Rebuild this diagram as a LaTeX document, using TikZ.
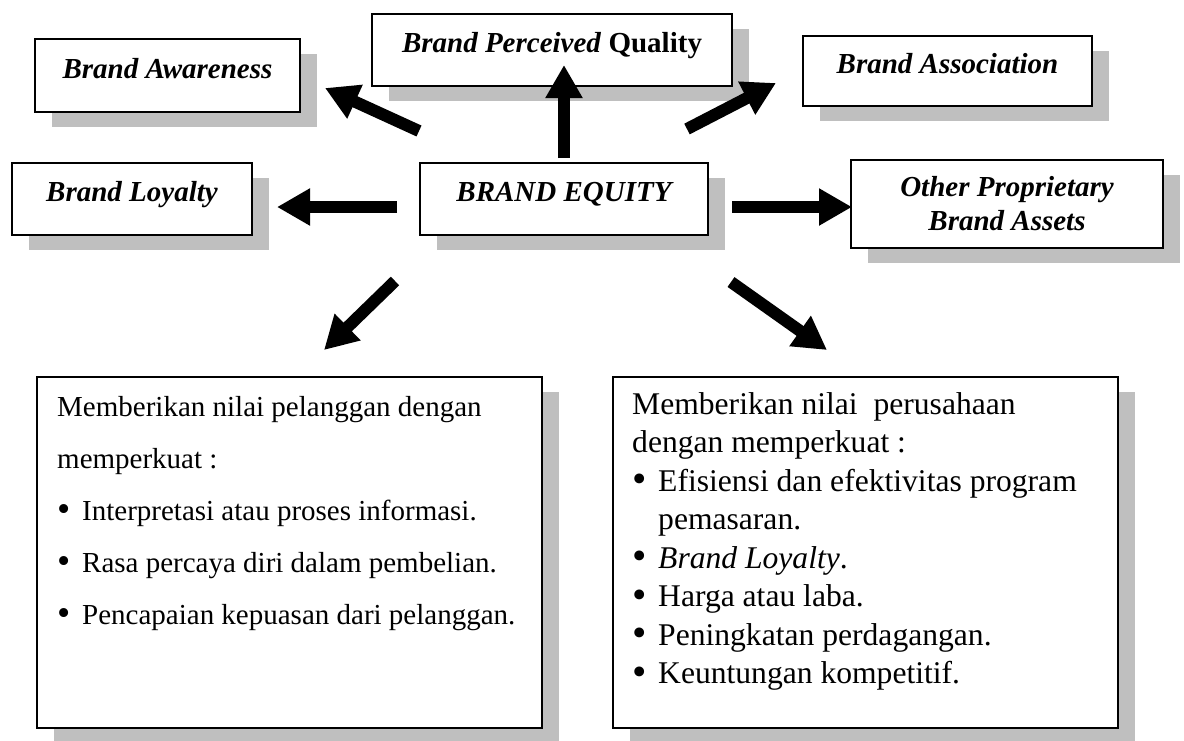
\documentclass[tikz,border=0pt]{standalone}
\usepackage{fontspec}
\setmainfont{Liberation Serif}
\usetikzlibrary{arrows.meta,shadows}
\newcommand{\bigbul}{\raisebox{-1.5pt}{\scalebox{1.3}{\textbullet}}}
\begin{document}
\begin{tikzpicture}[x=1pt,y=-1pt,
  shadowed/.style={drop shadow={shadow xshift=17pt,shadow yshift=-15pt,fill=black!25,opacity=1}},
  tbox/.style={shadowed,draw=black,line width=1.8pt,fill=white,inner sep=0pt,
    font=\fontsize{29}{34}\selectfont\bfseries\itshape},
  oneline/.style={text height=20pt,text depth=15pt},
  bigbox/.style={shadowed,draw=black,line width=1.8pt,fill=white,inner sep=0pt,
    minimum width=505pt,minimum height=351pt},
  bodyl/.style={anchor=base west,inner sep=0pt,font=\fontsize{29}{34}\selectfont},
  bodyr/.style={anchor=base west,inner sep=0pt,font=\fontsize{31.6}{36}\selectfont},
  blockarrow/.style={line width=12pt,-{Triangle[length=33pt,width=35pt]}}
]
\useasboundingbox (0,0) rectangle (1184,740);

% top boxes
\node[tbox,oneline,minimum width=265pt,minimum height=73pt] (aw) at (167.5,75.5) {Brand Awareness};
\node[tbox,oneline,minimum width=240pt,minimum height=72pt] (lo) at (132,199) {Brand Loyalty};
\node[tbox,oneline,minimum width=360pt,minimum height=72pt] (pq) at (552,50) {Brand Perceived \textup{Quality}};
\node[tbox,oneline,minimum width=288pt,minimum height=72pt] (eq) at (564,199) {BRAND EQUITY};
\node[tbox,oneline,minimum width=289pt,minimum height=70pt] (as) at (947.5,71) {Brand Association};
\node[tbox,align=center,minimum width=312pt,minimum height=88pt] (ot) at (1007,204) {Other Proprietary\\Brand Assets};

% bottom boxes
\node[bigbox] (lb) at (289.5,552.5) {};
\node[bigbox] (rb) at (865.5,552.5) {};

% left box text
\node[bodyl] (l1) at (57,416) {Memberikan nilai pelanggan dengan};
\node[bodyl] (l2) at (57,468) {memperkuat :};
\node[bodyl] (l3) at (57,520) {\makebox[25pt][l]{\bigbul}Interpretasi atau proses informasi.};
\node[bodyl] (l4) at (57,572) {\makebox[25pt][l]{\bigbul}Rasa percaya diri dalam pembelian.};
\node[bodyl] (l5) at (57,624) {\makebox[25pt][l]{\bigbul}Pencapaian kepuasan dari pelanggan.};

% right box text
\node[bodyr] (r1) at (632,414) {Memberikan nilai\ \ perusahaan};
\node[bodyr] (r2) at (632,452.5) {dengan memperkuat :};
\node[bodyr] (r3) at (632,491) {\makebox[26pt][l]{\bigbul}Efisiensi dan efektivitas program};
\node[bodyr] (r4) at (658,529.5) {pemasaran.};
\node[bodyr] (r5) at (632,568) {\makebox[26pt][l]{\bigbul}\textit{Brand Loyalty}.};
\node[bodyr] (r6) at (632,606.5) {\makebox[26pt][l]{\bigbul}Harga atau laba.};
\node[bodyr] (r7) at (632,645) {\makebox[26pt][l]{\bigbul}Peningkatan perdagangan.};
\node[bodyr] (r8) at (632,683.5) {\makebox[26pt][l]{\bigbul}Keuntungan kompetitif.};

% arrow ends
\coordinate (awS) at (419,131); \coordinate (awT) at (325,88);
\coordinate (pqS) at (564,158); \coordinate (pqT) at (564,65);
\coordinate (asS) at (687,129); \coordinate (asT) at (776,83);
\coordinate (loS) at (397,207); \coordinate (loT) at (277,207);
\coordinate (otS) at (732,207); \coordinate (otT) at (852,207);
\coordinate (lbS) at (395,281); \coordinate (lbT) at (324,350);
\coordinate (rbS) at (731,282); \coordinate (rbT) at (827,350);

\draw[blockarrow] (awS) -- (awT);
\draw[blockarrow] (pqS) -- (pqT);
\draw[blockarrow] (asS) -- (asT);
\draw[blockarrow] (loS) -- (loT);
\draw[blockarrow] (otS) -- (otT);
\draw[blockarrow] (lbS) -- (lbT);
\draw[blockarrow] (rbS) -- (rbT);
\end{tikzpicture}
\end{document}
